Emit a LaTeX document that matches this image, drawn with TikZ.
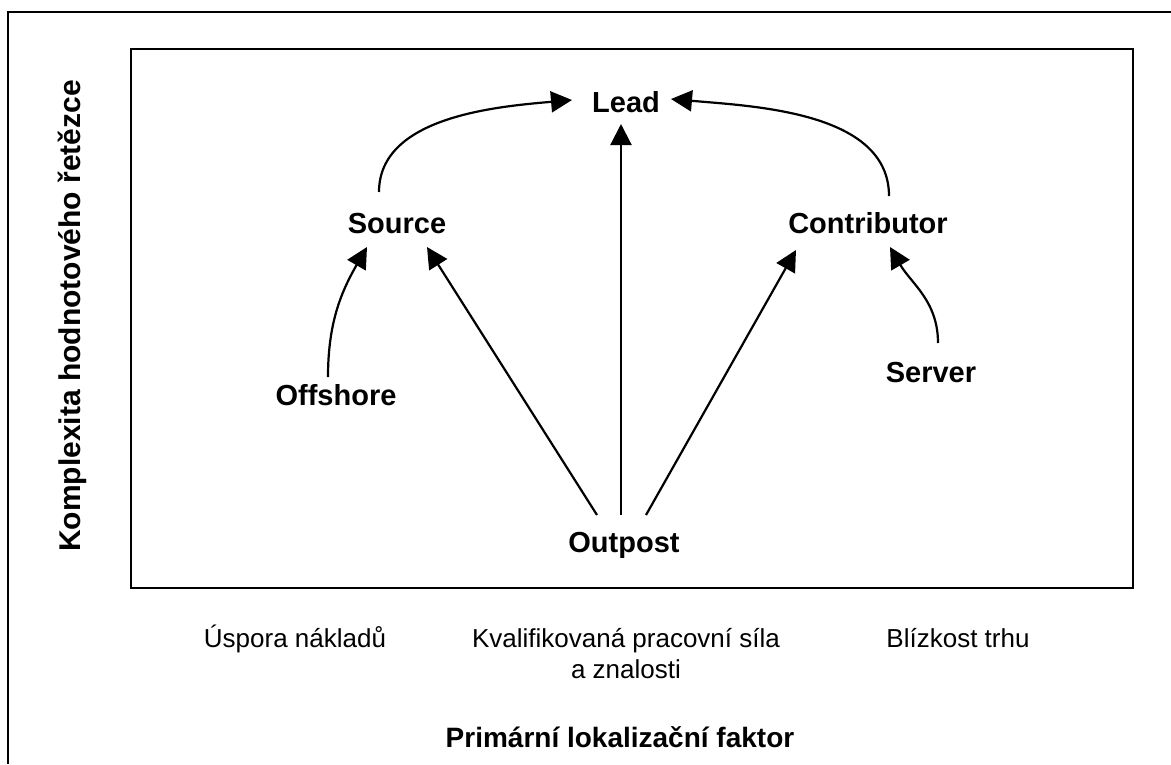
\documentclass[tikz,border=0pt]{standalone}
\usepackage{fontspec}
\setmainfont{Liberation Sans}
\usetikzlibrary{arrows.meta,calc}
\begin{document}
\begin{tikzpicture}[x=1pt,y=1pt,
  frame/.style={line width=2pt},
  lbl/.style={font=\fontsize{29}{34}\selectfont\bfseries, inner sep=0pt, anchor=base},
  axlbl/.style={font=\fontsize{26}{31}\selectfont, inner sep=0pt, anchor=base, align=center},
  conn/.style={line width=2.2pt, -{Triangle[length=21pt,width=21pt]}}
]
\useasboundingbox (0,0) rectangle (1171,-764);
% outer frame (top and left only)
\draw[frame] (8,-764) -- (8,-12) -- (1171,-12);
% inner box
\draw[frame] (131,-49) rectangle (1133,-588);

% nodes
\node[lbl] (lead) at (626,-112) {Lead};
\node[lbl] (source) at (397,-233) {Source};
\node[lbl] (contrib) at (868,-233) {Contributor};
\node[lbl] (offshore) at (336,-405) {Offshore};
\node[lbl] (server) at (931,-382) {Server};
\node[lbl] (outpost) at (624,-552) {Outpost};

% connectors
\draw[conn] ($(outpost.base)+(-3,37)$) -- ($(lead.base)+(-5,-12)$);
\draw[conn] ($(outpost.base)+(-27,37)$) -- ($(source.base)+(30,-14)$);
\draw[conn] ($(outpost.base)+(22,37)$) -- ($(contrib.base)+(-72,-17)$);
\draw[conn] ($(source.base)+(-18,41)$) to[out=90,in=185,looseness=0.9] ($(lead.base)+(-54,12)$);
\draw[conn] ($(contrib.base)+(21,37)$) to[out=90,in=-5,looseness=0.9] ($(lead.base)+(45,13)$);
\draw[conn] ($(offshore.base)+(-8,28)$) to[out=90,in=240] ($(source.base)+(-30,-14)$);
\draw[conn] ($(server.base)+(7,39)$) to[out=90,in=-60] ($(contrib.base)+(22,-14)$);

% axis labels
\node[axlbl] (x1) at (295,-647) {Úspora nákladů};
\node[axlbl, anchor=north] (x2) at (626,-628) {Kvalifikovaná pracovní síla\\a znalosti};
\node[axlbl] (x3) at (958,-647) {Blízkost trhu};
\node[lbl, font=\fontsize{28}{34}\selectfont\bfseries] (xt) at (620,-747) {Primární lokalizační faktor};
\node[lbl, font=\fontsize{30}{36}\selectfont\bfseries, rotate=90, anchor=center] (yt) at (72,-316) {Komplexita hodnotového řetězce};
\end{tikzpicture}
\end{document}
